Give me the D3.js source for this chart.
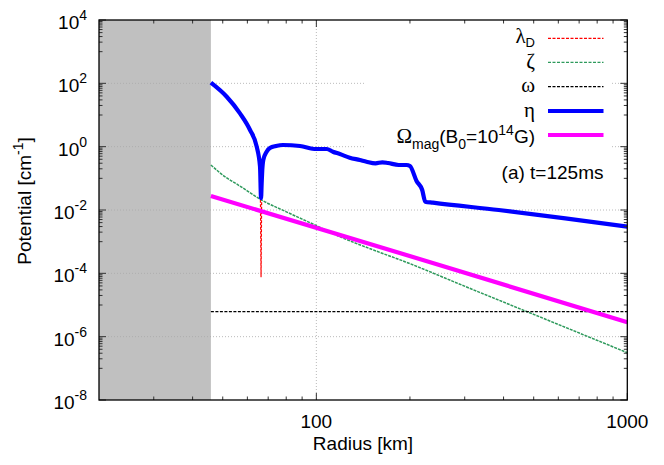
<!DOCTYPE html>
<html>
<head>
<meta charset="utf-8">
<script src="https://cdn.jsdelivr.net/npm/d3@7"></script>
<style>
  html, body { margin: 0; padding: 0; background: #fff; }
  svg text { font-family: "Liberation Sans", Arial, Helvetica, sans-serif; fill: #000; }
  .greek { font-family: "Liberation Serif", "Times New Roman", serif; }
</style>
</head>
<body>
<svg id="chart" width="664" height="465"></svg>
<script>
// ---------------- data ----------------
const xDomain = [20, 1000];
const yDomain = [1e-8, 1e4];
const innerCoreRadius = 45.8;           // shaded region upper bound [km]
const xTickValues = [100, 1000];
const xTickLabels = ["100", "1000"];
const yTickExponents = [-8, -6, -4, -2, 0, 2, 4];

// eta (blue)
const etaR = [45.8, 51.5, 56.8, 61.2, 64.3, 65.9, 66.4, 66.7, 67.0, 67.5, 69.2, 70.9, 74.2,
  78.1, 88.6, 100, 108, 113, 119, 128, 138, 145, 155, 163, 170, 184, 195, 200, 210, 219, 224, 237, 386, 632, 1000];
const etaV = [105, 37.8, 11.3, 3.36, 1.0, 0.233, 0.0239, 0.0697, 0.183, 0.379, 0.693, 0.908, 1.05,
  1.13, 1.05, 0.844, 0.844, 0.693, 0.586, 0.449, 0.379, 0.335, 0.298, 0.321, 0.305, 0.264, 0.264, 0.245, 0.0824, 0.0428, 0.0183, 0.0170, 0.0100, 0.00547, 0.00297];

// zeta (green)
const zetaR = [45.8, 50.8, 56.1, 66.7, 81.2, 99, 117.6, 150.6, 192.7, 301, 494, 1000];
const zetaV = [0.264, 0.1127, 0.0615, 0.0207, 0.00822, 0.00336, 0.00151, 5.74e-4, 2.33e-4, 3.86e-5, 5.3e-6, 3.12e-7];

// lambda_D (red) - hidden under zeta except the dip
const lambdaR = [66.1, 66.4, 66.7];
const lambdaV = [0.0212, 7.8e-5, 0.0207];

// omega (black)
const omegaR = [45.8, 1000];
const omegaV = [6.15e-6, 6.15e-6];

// Omega_mag (magenta)
const omagR = [45.8, 220, 1000];
const omagV = [0.0277, 2.64e-4, 2.84e-6];

const panelLabel = "(a) t=125ms";

// ---------------- drawing ----------------
const svg = d3.select("#chart");
const L = 99, R = 627.3, T = 20, B = 400;
const x = d3.scaleLog().domain(xDomain).range([L, R]);
const y = d3.scaleLog().domain(yDomain).range([B, T]);
const FS = 19;

// shaded region
svg.append("rect")
  .attr("x", x(xDomain[0])).attr("y", T)
  .attr("width", x(innerCoreRadius) - x(xDomain[0])).attr("height", B - T)
  .attr("fill", "#c0c0c0");

// grid
const grid = svg.append("g").attr("stroke", "#a8a8a8").attr("stroke-width", 0.8).attr("stroke-dasharray", "1,2");
xTickValues.filter(v => v < xDomain[1]).forEach(v => {
  grid.append("line").attr("x1", x(v)).attr("x2", x(v)).attr("y1", T).attr("y2", B);
});
yTickExponents.filter(e => e > -8 && e < 4).forEach(e => {
  grid.append("line").attr("x1", L).attr("x2", R).attr("y1", y(Math.pow(10, e))).attr("y2", y(Math.pow(10, e)));
});

// key background (opaque)
svg.append("rect").attr("x", 366).attr("y", 22).attr("width", 246).attr("height", 130).attr("fill", "#fff");

// curves
const zip = (a, b) => a.map((v, i) => [v, b[i]]);
const series = [
  { r: lambdaR, v: lambdaV, color: "#ff0000", w: 1.2, dash: "3,1.5", curve: d3.curveLinear },
  { r: zetaR, v: zetaV, color: "#2e9a5c", w: 1.5, dash: "3,1", curve: d3.curveMonotoneX },
  { r: omegaR, v: omegaV, color: "#000000", w: 1.2, dash: "3,1.5", curve: d3.curveLinear },
  { r: etaR, v: etaV, color: "#0000ff", w: 4.2, dash: null, curve: d3.curveMonotoneX },
  { r: omagR, v: omagV, color: "#ff00ff", w: 4.2, dash: null, curve: d3.curveLinear }
];
series.forEach(s => {
  const line = d3.line().x(d => x(d[0])).y(d => y(d[1])).curve(s.curve);
  const p = svg.append("path").datum(zip(s.r, s.v))
    .attr("d", line).attr("fill", "none")
    .attr("stroke", s.color).attr("stroke-width", s.w)
    .attr("stroke-linejoin", "round");
  if (s.dash) p.attr("stroke-dasharray", s.dash);
});

// ticks (inward, mirrored)
const ticks = svg.append("g").attr("stroke", "#333").attr("stroke-width", 1);
const xMinor = [];
[10, 100].forEach(dec => { for (let k = 2; k <= 9; k++) { const v = dec * k; if (v > xDomain[0] && v < xDomain[1] && v !== 100) xMinor.push(v); } });
xTickValues.forEach(v => {
  ticks.append("line").attr("x1", x(v)).attr("x2", x(v)).attr("y1", B).attr("y2", B - 7);
  ticks.append("line").attr("x1", x(v)).attr("x2", x(v)).attr("y1", T).attr("y2", T + 7);
});
xMinor.forEach(v => {
  ticks.append("line").attr("x1", x(v)).attr("x2", x(v)).attr("y1", B).attr("y2", B - 3.5);
  ticks.append("line").attr("x1", x(v)).attr("x2", x(v)).attr("y1", T).attr("y2", T + 3.5);
});
yTickExponents.forEach(e => {
  const yy = y(Math.pow(10, e));
  ticks.append("line").attr("x1", L).attr("x2", L + 7).attr("y1", yy).attr("y2", yy);
  ticks.append("line").attr("x1", R).attr("x2", R - 7).attr("y1", yy).attr("y2", yy);
  if (e < 4) {
    for (let k = 1; k <= 9; k++) {
      const yv = y(Math.pow(10, e) * 10 * k);
      ticks.append("line").attr("x1", L).attr("x2", L + 3.5).attr("y1", yv).attr("y2", yv);
      ticks.append("line").attr("x1", R).attr("x2", R - 3.5).attr("y1", yv).attr("y2", yv);
    }
  }
});

// frame
svg.append("rect").attr("x", L).attr("y", T).attr("width", R - L).attr("height", B - T)
  .attr("fill", "none").attr("stroke", "#000").attr("stroke-width", 1.3);

// x tick labels
xTickValues.forEach((v, i) => {
  svg.append("text").attr("x", x(v)).attr("y", 427.5).attr("text-anchor", "middle")
    .attr("font-size", FS).text(xTickLabels[i]);
});
// y tick labels
yTickExponents.forEach(e => {
  const t = svg.append("text").attr("x", 87).attr("y", y(Math.pow(10, e)) + 9)
    .attr("text-anchor", "end").attr("font-size", FS);
  t.append("tspan").text("10");
  t.append("tspan").attr("dy", -9).attr("font-size", 14).text(String(e));
});

// axis titles
svg.append("text").attr("x", 363).attr("y", 450).attr("text-anchor", "middle")
  .attr("font-size", FS).text("Radius [km]");
const yl = svg.append("text").attr("transform", "translate(31,201) rotate(-90)")
  .attr("text-anchor", "middle").attr("font-size", FS);
yl.append("tspan").text("Potential [cm");
yl.append("tspan").attr("dy", -8).attr("font-size", 14).text("-1");
yl.append("tspan").attr("dy", 8).text("]");

// legend
const legendRows = [
  { y: 38.3, color: "#ff0000", w: 1.2, dash: "3,1.5" },
  { y: 62.3, color: "#2e9a5c", w: 1.2, dash: "3,1.5" },
  { y: 86.7, color: "#000000", w: 1.2, dash: "3,1.5" },
  { y: 111, color: "#0000ff", w: 4, dash: null },
  { y: 135, color: "#ff00ff", w: 4, dash: null }
];
legendRows.forEach(r => {
  const l = svg.append("line").attr("x1", 548).attr("x2", 603.5).attr("y1", r.y).attr("y2", r.y)
    .attr("stroke", r.color).attr("stroke-width", r.w);
  if (r.dash) l.attr("stroke-dasharray", r.dash);
});
const TX = 535;
const GFS = 21;
let t;
t = svg.append("text").attr("x", TX).attr("y", 42.5).attr("text-anchor", "end").attr("font-size", FS);
t.append("tspan").attr("class", "greek").attr("font-size", GFS).text("λ");
t.append("tspan").attr("dy", 4.5).attr("font-size", 13).text("D");

t = svg.append("text").attr("x", TX).attr("y", 67.5).attr("text-anchor", "end").attr("font-size", FS);
t.append("tspan").attr("class", "greek").attr("font-size", GFS).text("ζ");

t = svg.append("text").attr("x", TX).attr("y", 91.7).attr("text-anchor", "end").attr("font-size", FS);
t.append("tspan").attr("class", "greek").attr("font-size", GFS).text("ω");

t = svg.append("text").attr("x", TX).attr("y", 116.5).attr("text-anchor", "end").attr("font-size", FS);
t.append("tspan").attr("class", "greek").attr("font-size", GFS).text("η");

t = svg.append("text").attr("x", TX).attr("y", 142.5).attr("text-anchor", "end").attr("font-size", FS);
t.append("tspan").attr("class", "greek").attr("font-size", GFS).text("Ω");
t.append("tspan").attr("dy", 6).attr("font-size", 14).text("mag");
t.append("tspan").attr("dy", -6).text("(B");
t.append("tspan").attr("dy", 6).attr("font-size", 14).text("0");
t.append("tspan").attr("dy", -6).text("=10");
t.append("tspan").attr("dy", -8).attr("font-size", 14).text("14");
t.append("tspan").attr("dy", 8).text("G)");

svg.append("text").attr("x", 603.5).attr("y", 179).attr("text-anchor", "end")
  .attr("font-size", FS).text(panelLabel);
</script>
</body>
</html>
